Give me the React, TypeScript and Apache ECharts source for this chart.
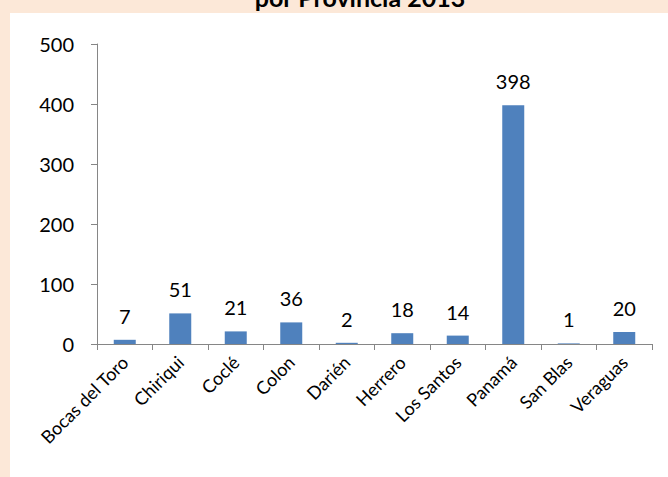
import React, { useEffect, useRef } from "react";
import * as echarts from "echarts";

const categories = ["Bocas del Toro", "Chiriqui", "Coclé", "Colon", "Darién", "Herrero", "Los Santos", "Panamá", "San Blas", "Veraguas"];
const values = [7, 51, 21, 36, 2, 18, 14, 398, 1, 20];
const yTicks = { min: 0, max: 500, interval: 100 };
const titleText = "por Provincia 2013";

export default function App() {
  const ref = useRef<HTMLDivElement>(null);
  useEffect(() => {
    const chart = echarts.init(ref.current!, null, { renderer: "svg" });
    const font = "Lato, 'Open Sans', sans-serif";
    chart.setOption({
      animation: false,
      backgroundColor: "#FCE8D8",
      graphic: [
        {
          type: "text",
          x: 360,
          y: 9,
          z: 1,
          style: {
            text: titleText,
            fontFamily: font,
            fontSize: 25,
            fontWeight: "bold",
            fill: "#000",
            align: "center",
            verticalAlign: "bottom",
          },
        },
        {
          type: "rect",
          shape: { x: 10, y: 13, width: 658, height: 464 },
          style: { fill: "#FFFFFF" },
          z: 2,
        },
      ],
      grid: { left: 97, right: 16, top: 44, bottom: 133, containLabel: false },
      xAxis: {
        type: "category",
        data: categories,
        z: 10,
        axisLine: { lineStyle: { color: "#868686", width: 1 } },
        axisTick: { show: true, length: 6, lineStyle: { color: "#868686" } },
        axisLabel: { rotate: 45, margin: 15, fontFamily: font, fontSize: 18, color: "#000", interval: 0 },
      },
      yAxis: {
        type: "value",
        min: yTicks.min,
        max: yTicks.max,
        interval: yTicks.interval,
        z: 10,
        splitLine: { show: false },
        axisLine: { show: true, lineStyle: { color: "#868686", width: 1 } },
        axisTick: { show: true, length: 6, lineStyle: { color: "#868686" } },
        axisLabel: { margin: 23, fontFamily: font, fontSize: 20, color: "#000" },
      },
      series: [
        {
          type: "bar",
          data: values,
          barWidth: 22,
          z: 10,
          itemStyle: { color: "#4F81BD" },
          label: { show: true, position: "top", distance: 14, fontFamily: font, fontSize: 20, color: "#000" },
        },
      ],
    });
    return () => chart.dispose();
  }, []);
  return <div ref={ref} style={{ position: "fixed", left: 0, top: 0, width: 668, height: 477 }} />;
}
